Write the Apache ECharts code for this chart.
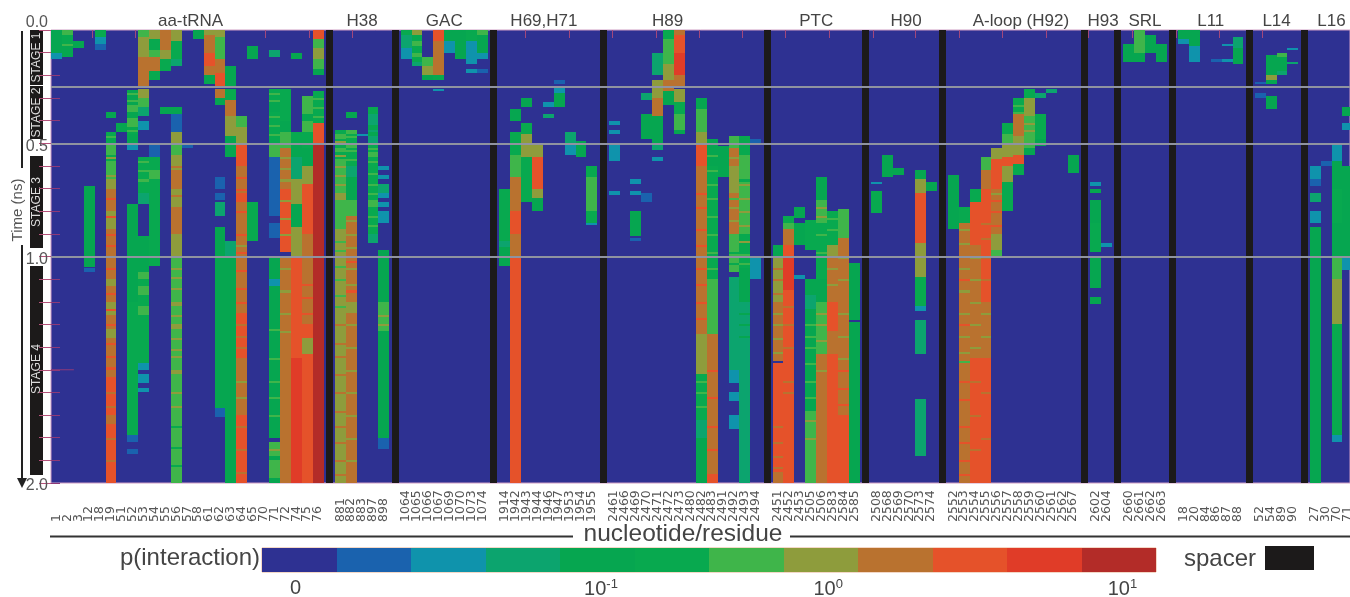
<!DOCTYPE html>
<html><head><meta charset="utf-8">
<script src="https://cdn.jsdelivr.net/npm/echarts@6/dist/echarts.min.js"></script>
<style>html,body{margin:0;background:#fff}#c{width:1350px;height:597px;filter:blur(.7px)}</style>
</head><body><div id="c"></div>
<script>
// interaction level colours, lowest to highest (index = level)
const levelColors=['#2e3192','#1a62ae','#0f93ac','#0ca46e','#06a650','#08a94f','#3fb54a','#8e9c3c','#b9722f','#e5522a','#e03c28','#b32c28'];
const groupNames=['aa-tRNA','H38','GAC','H69,H71','H89','PTC','H90','A-loop (H92)','H93','SRL','L11','L14','L16'];
const timeTicks=[0,0.5,1,2];
const stageBoundaries=[0.254,0.5,1];
const legendTicks=['0','10|-1','10|0','10|1'];

const resAa=['1','2','3','12','18','19','51','52','53','54','55','56','57','58','61','62','63','64','65','70','71','72','74','75','76'];
const resH38=['881','882','883','897','898'];
const resGac=['1064','1065','1066','1067','1069','1070','1073','1074'];
const resH69=['1914','1942','1943','1944','1946','1947','1953','1954','1955'];
const resH89=['2461','2466','2469','2470','2471','2472','2473','2480','2482','2483','2491','2492','2493','2494'];
const resPtc=['2451','2452','2453','2505','2506','2583','2584','2585'];
const resH90=['2508','2568','2569','2570','2573','2574'];
const resAloop=['2552','2553','2554','2555','2556','2557','2558','2559','2560','2561','2562','2567'];
const resH93=['2602','2604'];
const resSrl=['2660','2661','2662','2663'];
const resL11=['18','20','84','86','87','88'];
const resL14=['52','54','89','90'];
const resL16=['27','30','70','71'];

// each column: flat list of tStart(ns), tEnd(ns), level
const runsAa=[
[0,.1,4,.1,.13,2],
[0,.02,6,.02,.06,5,.06,.07,6,.07,.12,4],
[.05,.08,4],
[.69,1.045,4,1.05,1.07,1],
[0,.03,5,.03,.06,2,.06,.09,1],
[.36,.39,4,.45,.5,5,.5,.55,6,.55,.58,5,.58,.66,6,.66,.7,7,.7,.8,8,.8,.88,7,.88,1.0,8,1.0,1.1,8,1.1,1.13,7,1.13,1.2,8,1.2,1.26,7,1.26,1.32,8,1.32,1.36,7,1.36,1.4,8,1.4,1.53,8,1.53,1.7,9,1.7,1.74,8,1.74,2,9],
[.41,.45,4],
[.265,.33,4,.33,.36,6,.36,.39,4,.39,.43,6,.43,.46,5,.46,.5,4,.5,.53,2,.77,1.2,4,1.2,1.79,5,1.79,1.82,1,1.85,1.87,1],
[0,.03,6,.03,.12,7,.12,.25,8,.26,.3,7,.3,.34,6,.34,.38,3,.4,.44,2,.56,.72,5,.72,.77,3,.91,1.07,4,1.07,1.1,6,1.1,1.13,5,1.13,1.17,6,1.17,1.22,5,1.22,1.26,6,1.26,1.47,5,1.47,1.5,2,1.52,1.56,2,1.58,1.6,2],
[0,.04,7,.04,.09,5,.09,.12,6,.12,.18,8,.18,.22,5,.5,.56,1,.56,.62,5,.62,.66,6,.66,1.04,5],
[0,.09,8,.09,.13,7,.13,.18,5,.34,.37,4],
[0,.05,7,.05,.13,5,.13,.16,3,.34,.37,4,.37,.45,1,.45,.5,7,.5,.55,6,.55,.62,7,.62,.7,8,.7,.78,7,.78,.9,8,.9,1,7,1,1.2,6,1.2,1.22,7,1.22,1.3,6,1.3,1.32,7,1.32,1.5,6,1.5,1.52,7,1.52,2,6],
[.5,.52,1],
[0,.04,4],
[0,.02,7,.02,.1,8,.1,.16,9,.16,.2,8,.2,.24,4],
[0,.03,7,.03,.13,6,.13,.19,8,.19,.25,9,.26,.3,8,.3,.33,4,.65,.7,1,.72,.75,1,.76,.82,3,.87,1.67,4,1.67,1.71,1],
[.16,.25,4,.26,.31,5,.31,.38,8,.38,.47,7,.47,.56,4,.93,1,3,1,2,4],
[.38,.43,6,.43,.46,7,.46,.5,7,.5,.6,9,.6,.72,8,.72,.76,9,.76,.85,8,.85,1.1,8,1.1,1.25,8,1.25,1.45,9,1.45,1.5,8,1.5,1.7,8,1.7,2,9],
[.07,.13,4,.76,.93,5],
[],
[.09,.12,3,.26,.32,5,.32,.36,4,.36,.5,5,.5,.56,6,.56,.72,1,.72,.82,1,.85,.92,1,1,1.1,4,1.1,1.13,2,1.13,1.8,4,1.82,1.88,6,1.88,1.9,4,1.9,1.98,6,1.98,2,4],
[.26,.4,5,.4,.45,4,.45,.52,6,.52,.7,8,.7,.98,9,1,1.3,8,1.3,2,8],
[.1,.13,4,.45,.5,5,.5,.56,4,.56,.66,3,.66,.77,7,.77,.87,4,.87,1,7,1,1.1,9,1.1,1.45,9,1.45,2,10],
[.29,.37,6,.37,.4,4,.4,.45,6,.45,.52,5,.52,.6,4,.6,.68,7,.68,.9,9,.9,1.1,8,1.1,1.3,8,1.3,1.36,9,1.36,1.43,7,1.43,2,9],
[0,.04,9,.04,.08,6,.08,.13,7,.13,.17,6,.17,.2,4,.27,.41,5,.41,.5,9,.5,2,11]
];
const runsH38=[
[.44,.46,5,.46,.48,6,.48,.52,5,.52,.54,6,.54,.57,5,.57,.72,6,.72,.75,7,.75,.88,6,.88,1,7,1,1.3,7,1.3,1.5,7,1.5,2,7],
[.36,.39,4,.44,.46,6,.46,.5,5,.5,.52,6,.52,.6,5,.6,.65,3,.65,.75,4,.75,.82,6,.82,1,8,1,1.2,8,1.2,1.25,7,1.25,2,8],
[.46,.47,2],
[.34,.37,5,.37,.42,3,.42,.47,4,.47,.5,3,.5,.54,5,.54,.56,6,.56,.6,5,.6,.75,5,.75,.78,6,.78,.9,5,.9,.94,3],
[.6,.62,2,.64,.66,2,.68,.72,3,.72,.74,2,.76,.78,2,.8,.85,2,.97,1.2,4,1.2,1.33,6,1.33,1.8,4,1.8,1.85,1]
];
const runsGac=[
[0,.02,5,.02,.08,3,.08,.13,2],
[0,.02,7,.02,.05,5,.05,.07,6,.07,.1,5,.1,.12,6,.12,.14,5,.14,.16,3],
[.12,.16,6,.16,.2,7,.2,.22,4],
[0,.05,9,.05,.12,8,.12,.2,8,.2,.22,5,.26,.27,2],
[0,.05,4,.05,.1,2],
[0,.13,4],
[0,.05,5,.05,.15,2,.17,.19,2],
[0,.02,6,.02,.1,4,.1,.13,2,.17,.19,1]
];
const runsH69=[
[.7,.93,5,.93,.96,3,.96,1.04,4],
[.35,.4,4,.45,.55,5,.55,.65,6,.65,.8,8,.8,.9,9,.9,1,8,1,1.2,9,1.2,2,9],
[.3,.34,4,.41,.46,5,.46,.5,7,.5,.56,7,.56,.76,5],
[.5,.56,7,.56,.7,9,.7,.74,7,.74,.8,4],
[.32,.34,2,.37,.39,3],
[.22,.24,1,.25,.28,2,.28,.34,4],
[.45,.5,3,.5,.55,2],
[.49,.56,4],
[.6,.65,5,.65,.8,6,.8,.85,5,.85,.86,2]
];
const runsH89=[
[.4,.42,2,.44,.46,2,.5,.52,2,.52,.58,2,.71,.73,2],
[],
[.66,.68,2,.71,.73,2,.8,.91,4,.92,.93,1],
[.28,.31,3,.37,.48,4,.72,.76,1],
[.1,.2,3,.22,.3,7,.3,.38,8,.38,.44,4,.44,.5,4,.5,.53,3,.56,.58,2],
[0,.04,5,.04,.15,6,.15,.22,7,.22,.27,8,.27,.33,4],
[0,.02,8,.02,.1,9,.1,.2,10,.2,.25,8,.26,.32,7,.32,.37,5,.37,.44,6,.44,.46,4],
[],
[.3,.35,4,.35,.45,6,.45,.5,7,.5,.6,9,.6,.7,8,.7,.85,8,.85,1,8,1,1.34,8,1.34,1.52,7,1.52,1.72,5,1.72,1.8,3,1.8,2,4],
[.48,.6,4,.6,1,5,1,1.1,5,1.1,1.34,6,1.34,1.96,8,1.96,2,9],
[.51,.65,4],
[.47,.52,6,.52,.6,8,.6,.72,7,.72,.9,8,.9,1.07,6,1.09,1.5,3,1.5,1.56,2,1.6,1.64,2,1.7,1.76,2],
[.47,.55,5,.55,.62,6,.62,.9,6,.9,1.05,5,1.05,1.2,4,1.2,2,3],
[.48,.5,1,1,1.1,2]
];
const runsPtc=[
[.95,1,4,1,1.2,7,1.2,1.46,8,1.47,1.7,9,1.7,1.95,9,1.95,2,8],
[.82,.85,5,.85,.88,6,.88,.95,8,.95,1,9,1,1.15,10,1.15,2,9],
[.78,.83,4,.85,.95,4,1.08,1.1,2],
[.84,.97,5,1.1,1.17,4,1.17,1.23,3,1.23,1.68,4,1.68,2,6],
[.65,.75,4,.75,.85,6,.85,1.1,5,1.1,1.2,4,1.2,1.43,6,1.43,2,8],
[.8,.95,5,.95,1,7,1,1.2,8,1.2,1.33,9,1.33,1.43,8,1.43,2,9],
[.79,.92,6,.92,1.2,8,1.2,1.7,8,1.7,2,9],
[1.03,1.28,4,1.29,2,4]
];
const runsH90=[
[.67,.68,2,.71,.81,5],
[.55,.65,4],
[.61,.64,4],
[],
[.62,.66,4,.66,.72,7,.72,.94,9,.94,1.09,7,1.09,1.22,5,1.22,1.24,2,1.28,1.43,3,1.63,1.88,3],
[.67,.71,4]
];
const runsAloop=[
[.64,.88,4],
[.78,.85,5,.85,1,8,1,1.5,8,1.5,2,8],
[.7,.76,5,.76,.95,9,.95,1.45,8,1.45,2,9],
[.56,.62,6,.62,.7,8,.7,1.2,9,1.2,1.45,8,1.45,2,9],
[.52,.57,7,.57,.62,9,.62,.7,9,.7,.9,8,.9,.97,7,.97,1,6],
[.41,.46,5,.46,.5,6,.5,.56,7,.56,.6,9,.6,.67,7,.67,.8,5],
[.3,.37,5,.37,.47,8,.47,.55,7,.55,.59,9,.59,.64,5],
[.26,.3,5,.3,.38,7,.38,.46,6,.46,.52,6,.52,.55,4],
[.28,.3,3,.37,.48,5,.48,.51,4],
[.26,.28,3],
[],
[.55,.63,4]
];
const runsH93=[
[.67,.69,2,.7,.72,4,.75,.85,4,.85,.98,5,1,1.14,4,1.18,1.21,4],
[.94,.96,2]
];
const runsSrl=[
[.06,.14,4],
[0,.02,6,.02,.1,6,.1,.14,4],
[.02,.1,4],
[.06,.14,4]
];
const runsL11=[
[0,.04,4,.04,.06,2],
[0,.07,4,.07,.11,2,.11,.14,2],
[],
[.13,.14,1],
[.06,.07,2,.13,.14,2],
[.03,.08,3,.08,.15,4]
];
const runsL14=[
[.23,.24,1,.28,.3,1],
[.11,.2,4,.2,.22,7,.22,.24,4,.29,.35,4],
[.1,.12,6,.12,.18,4,.18,.2,3],
[.08,.09,2,.14,.15,3]
];
const runsL16=[
[.6,.66,2,.66,.69,1,.72,.76,3,.8,.85,2,.87,2,4],
[.58,.6,1],
[.5,.58,2,.58,.7,4,.7,.85,5,.85,1,4,1,1.1,6,1.1,1.3,7,1.3,1.79,5,1.79,1.82,2],
[.34,.38,4,.41,.44,2,.6,1,4,1,1.06,2]
];

// thin flicker rows read by eye: [column, level, times...]
const stripesAa=[
[5,6,.47,.51,.6],[5,7,.56,.64],[5,9,.74,.82,.9,.95,1.05,1.16,1.23,1.3,1.38,1.44,1.49],[5,8,1.6,1.66,1.8,1.9],
[7,6,.28,.31,.35,.41,.44],[8,6,.58,.62,.66],
[11,7,1.05,1.09,1.14,1.26,1.36,1.41,1.44,1.6,1.66],[11,5,1.75,1.84,1.92],[11,8,.6,.68,.73,.82],
[17,9,.65,.7,.8,.9,.98,1.06,1.14,1.2],[17,8,1.3,1.35,1.4,1.75,1.85,1.95],[17,7,.95,1.55,1.62],
[20,6,.28,.31,.38,.42,.46,1.32,1.45,1.55,1.62,1.7],[20,7,1.85],
[21,7,.56,.61,.66,.75,.83,.9,1.05,1.15,1.25,1.33],
[23,9,1.12,1.18,1.25],[24,6,.3,.34,.38]
];
const stripesH38=[
[0,7,.49,.55,.6,.64,.68],[0,6,.8,.85,.93,.97,1.04,1.1,1.17,1.22],[0,8,1.3,1.38,1.44,1.52,1.6,1.68,1.75,1.82,1.9,1.96],
[1,6,.47,.53,.57],[1,7,.84,.9,.96,1.05,1.12,1.3,1.4,1.5,1.6,1.7,1.8,1.9],[1,9,1.02,1.15],
[3,6,.52,.58,.63,.68,.72,.82,.86],[3,3,.44],[4,7,1.26,1.3]
];
const stripesH89=[
[8,9,.72,.78,.88,.95,1.05,1.12,1.2,1.27],[8,7,1.36,1.4,1.45],[8,6,1.55,1.6,1.66],
[9,6,.55,.62,.68,.74,.82,.9,.98,1.05,1.15,1.22,1.28],[9,9,1.5,1.62,1.75,1.85],
[11,7,.5,.56,.78,.84],[11,6,.74],[11,5,.98,1.03],
[12,7,.68,.74,.8,.86,.93],[12,5,.66],[12,6,.99,1.03],[12,4,1.25,1.3,1.35]
];
const stripesPtc=[
[0,8,1.05,1.1,1.16,1.75,1.82,1.88,1.93],[0,7,1.25,1.3,1.36,1.42],
[1,8,1.22,1.3,1.4,1.55,1.6],
[3,6,1.3,1.35,1.4,1.47,1.55,1.62],[3,7,1.72,1.8],
[4,7,.78,.82,1.25,1.3,1.37,1.5],[4,6,.9,.98],
[5,6,.83,.88],[5,7,1.05,1.12],
[6,7,1,1.1,1.25,1.35,1.45],[6,9,1.5,1.58,1.65]
];
const stripesAloop=[
[1,7,.88,.94,1.05,1.15,1.25,1.35,1.42],[1,9,1.1,1.3,1.55,1.63,1.75,1.82,1.9,1.96],[1,6,1.46],
[2,7,1,1.1,1.2,1.3,1.4],[2,8,1.55,1.7,1.85],
[3,8,.85,.92,1,1.1,1.6,1.8],[3,7,1.25,1.35],
[4,9,.75,.8,.86],[4,7,.72],[7,7,.41,.44],[6,6,.33,.36]
];

const residues=[resAa,resH38,resGac,resH69,resH89,resPtc,resH90,resAloop,resH93,resSrl,resL11,resL14,resL16];
const runs=[runsAa,runsH38,runsGac,runsH69,runsH89,runsPtc,runsH90,runsAloop,runsH93,runsSrl,runsL11,runsL14,runsL16];
const stripes=[stripesAa,stripesH38,[],[],stripesH89,stripesPtc,[],stripesAloop,[],[],[],[],[]];
const stripeHeight=.009;

// x axis unit is one column slot; groups are separated by a gap with a spacer in it
const groupGap=1.04, spacerWidth=.66;
const nameShift=[.3,0,0,-.4,-1.6,0,.2,.7,.2,0,0,0,0];
const cells=[],spacers=[],colCenters=[],colLabels=[],nameCenters=[];
let cursor=0;
residues.forEach((res,g)=>{
  res.forEach((lab,i)=>{
    colCenters.push(cursor+i+.5);colLabels.push(lab);
    const r=runs[g][i];
    for(let k=0;k<r.length;k+=3)cells.push([cursor+i,r[k],r[k+1],r[k+2]]);
  });
  stripes[g].forEach(s=>{for(let k=2;k<s.length;k++)cells.push([cursor+s[0],s[k],s[k]+stripeHeight,s[1]]);});
  nameCenters.push(cursor+res.length/2+nameShift[g]);
  cursor+=res.length;
  if(g<residues.length-1){spacers.push(cursor+(groupGap-spacerWidth)/2+.02);cursor+=groupGap;}
});
const topTickValues=[3.75,7.7,11.7,15.7,19.7,23.7,27.6,31.6,35.6,39.6,43.5,47.5,51.5,55.5,59.5,63.4,67.4,71.4,75.4,79.3,83.3,87.3,91.3,95.2,99.2,103.2,107.2,111.1,115.1];
const plotWidthUnits=(1350-51)/10.9;
const legendTickValues=[.45,4.55,7.6,11.55];
// label lookup by axis value
const nearest=(arr,v)=>{let b=0;arr.forEach((x,i)=>{if(Math.abs(x-v)<Math.abs(arr[b]-v))b=i;});return b;};
// rectangle between two data corners, snapped to whole pixels so neighbours leave no seams
const snapRect=(a,b,fill)=>{
  const x=Math.round(a[0]),y=Math.round(a[1]),x2=Math.round(b[0]),y2=Math.round(b[1]);
  return {type:'rect',shape:{x,y,width:x2-x,height:Math.max(1,y2-y)},style:{fill}};
};

const option={
 animation:false,backgroundColor:'#fff',
 textStyle:{fontFamily:'"Liberation Sans",Arial,sans-serif',color:'#444'},
 grid:[
  {left:51,top:30,width:1299,height:453,show:true,backgroundColor:levelColors[0],borderColor:'#cf9ec4',borderWidth:1,outerBoundsMode:'none',z:0},
  {left:262,top:548,width:894,height:24,show:true,backgroundColor:'#fff',borderColor:'#e8b08e',borderWidth:1,outerBoundsMode:'none'}
 ],
 xAxis:[
  {gridIndex:0,type:'value',min:0,max:plotWidthUnits,position:'bottom',splitLine:{show:false},axisLine:{show:false},axisTick:{show:false},
   // empty end entries keep the library from dropping the first and last real labels as overlaps
   axisLabel:{show:true,customValues:[0,...colCenters,plotWidthUnits],rotate:90,align:'left',verticalAlign:'middle',margin:39,fontSize:12.5,color:'#555',fontFamily:'"DejaVu Sans"',
     formatter:v=>(v===0||v===plotWidthUnits)?'':colLabels[nearest(colCenters,v)]}},
  {gridIndex:0,type:'value',min:0,max:plotWidthUnits,position:'top',splitLine:{show:false},axisLine:{show:false},
   axisTick:{show:true,inside:true,length:8,customValues:topTickValues,lineStyle:{color:'#a2487c',width:1}},
   axisLabel:{show:true,showMinLabel:true,showMaxLabel:true,customValues:nameCenters,margin:0,fontSize:17,color:'#444',formatter:v=>groupNames[nearest(nameCenters,v)]}},
  {gridIndex:1,type:'value',min:0,max:12,position:'bottom',splitLine:{show:false},axisLine:{show:false},axisTick:{show:false},
   axisLabel:{show:true,showMinLabel:true,showMaxLabel:true,customValues:legendTickValues,margin:6,fontSize:20,color:'#444',
     formatter:v=>{const p=legendTicks[nearest(legendTickValues,v)].split('|');return p.length>1?'{b|'+p[0]+'}{s|'+p[1]+'}':'{b|'+p[0]+'}';},
     rich:{b:{fontSize:20,color:'#444'},s:{fontSize:13,color:'#444',padding:[0,0,9,0]}}}}
 ],
 yAxis:[
  {gridIndex:0,type:'value',inverse:true,min:0,max:2,interval:.1,position:'left',splitLine:{show:false},axisLine:{show:false},
   axisTick:{show:true,inside:true,length:9,lineStyle:{color:'#8e3a78',width:1}},
   axisLabel:{show:true,showMinLabel:true,showMaxLabel:true,customValues:timeTicks,margin:3,fontSize:16,color:'#555',
     formatter:v=>{const s=v.toFixed(1);return v===0?'{t|'+s+'}':v===2?'{e|'+s+'}':'{m|'+s+'}';},
     rich:{t:{fontSize:16,color:'#555',padding:[0,0,14,0]},m:{fontSize:16,color:'#555',padding:[6,0,0,0]},e:{fontSize:16,color:'#555',padding:[5,0,0,0]}}}},
  {gridIndex:1,type:'value',min:0,max:1,show:false},
  {gridIndex:0,type:'value',inverse:true,min:0,max:2,interval:.1,position:'right',splitLine:{show:false},axisLine:{show:false},
   axisTick:{show:true,inside:true,length:12,lineStyle:{color:'#b5527a',width:1}},axisLabel:{show:false}}
 ],
 series:[
  {type:'custom',xAxisIndex:0,yAxisIndex:0,clip:true,z:2,data:cells,encode:{x:0,y:[1,2]},
   renderItem:(p,api)=>snapRect(api.coord([api.value(0),api.value(1)]),api.coord([api.value(0)+1,api.value(2)]),levelColors[api.value(3)])},
  {type:'custom',xAxisIndex:0,yAxisIndex:0,clip:true,z:3,data:spacers.map(s=>[s]),encode:{x:0},
   renderItem:(p,api)=>snapRect(api.coord([api.value(0),0]),api.coord([api.value(0)+spacerWidth,2]),'#1c1a1a')},
  {type:'custom',xAxisIndex:0,yAxisIndex:0,z:4,data:[[0,1.5]],encode:{x:0,y:1},silent:true,
   renderItem:(p,api)=>{
     const a=api.coord([0,1.5]),b=api.coord([2.1,1.5]);
     return {type:'line',shape:{x1:a[0],y1:a[1],x2:b[0],y2:b[1]},style:{stroke:'#8e3a78',lineWidth:1}};
   },
   markLine:{silent:true,symbol:'none',label:{show:false},lineStyle:{color:'#8f93a0',width:2,type:'solid'},
     data:stageBoundaries.map(v=>({yAxis:v}))}},
  {type:'custom',xAxisIndex:2,yAxisIndex:1,z:2,data:levelColors.map((c,i)=>[i]),encode:{x:0},
   renderItem:(p,api)=>{const i=api.value(0);return snapRect(api.coord([i,1]),api.coord([i+1,0]),levelColors[i]);}}
 ],
 graphic:[
  {type:'rect',shape:{x:30,y:30,width:13,height:55},style:{fill:'#1c1a1a'}},
  {type:'rect',shape:{x:30,y:86,width:13,height:53},style:{fill:'#1c1a1a'}},
  {type:'rect',shape:{x:30,y:156,width:13,height:92},style:{fill:'#1c1a1a'}},
  {type:'rect',shape:{x:30,y:266,width:13,height:209},style:{fill:'#1c1a1a'}},
  {type:'text',x:37,y:57.5,rotation:Math.PI/2,style:{text:'STAGE 1',fill:'#ddd',font:'12px "Liberation Sans"',align:'center',verticalAlign:'middle'}},
  {type:'text',x:37,y:112.5,rotation:Math.PI/2,style:{text:'STAGE 2',fill:'#ddd',font:'12px "Liberation Sans"',align:'center',verticalAlign:'middle'}},
  {type:'text',x:37,y:202,rotation:Math.PI/2,style:{text:'STAGE 3',fill:'#ddd',font:'12px "Liberation Sans"',align:'center',verticalAlign:'middle'}},
  {type:'text',x:37,y:369,rotation:Math.PI/2,style:{text:'STAGE 4',fill:'#ddd',font:'12px "Liberation Sans"',align:'center',verticalAlign:'middle'}},
  {type:'line',shape:{x1:22,y1:31,x2:22,y2:168},style:{stroke:'#222',lineWidth:2}},
  {type:'line',shape:{x1:22,y1:245,x2:22,y2:480},style:{stroke:'#222',lineWidth:2}},
  {type:'polygon',shape:{points:[[17,478],[27,478],[22,488]]},style:{fill:'#222'}},
  {type:'text',x:18,y:210,rotation:Math.PI/2,style:{text:'Time (ns)',fill:'#555',font:'15px "Liberation Sans"',align:'center',verticalAlign:'middle'}},
  {type:'line',shape:{x1:50,y1:536.5,x2:573,y2:536.5},style:{stroke:'#333',lineWidth:2}},
  {type:'line',shape:{x1:790,y1:536.5,x2:1350,y2:536.5},style:{stroke:'#333',lineWidth:2}},
  {type:'text',x:683,y:534,style:{text:'nucleotide/residue',fill:'#444',font:'24.5px "Liberation Sans"',align:'center',verticalAlign:'middle'}},
  {type:'text',x:260,y:558,style:{text:'p(interaction)',fill:'#444',font:'24px "Liberation Sans"',align:'right',verticalAlign:'middle'}},
  {type:'text',x:1184,y:559,style:{text:'spacer',fill:'#444',font:'24px "Liberation Sans"',align:'left',verticalAlign:'middle'}},
  {type:'rect',shape:{x:1265,y:546,width:49,height:24},style:{fill:'#1c1a1a'}}
 ]
};
const chart=echarts.init(document.getElementById('c'),null,{renderer:'canvas'});
chart.setOption(option);
</script></body></html>
